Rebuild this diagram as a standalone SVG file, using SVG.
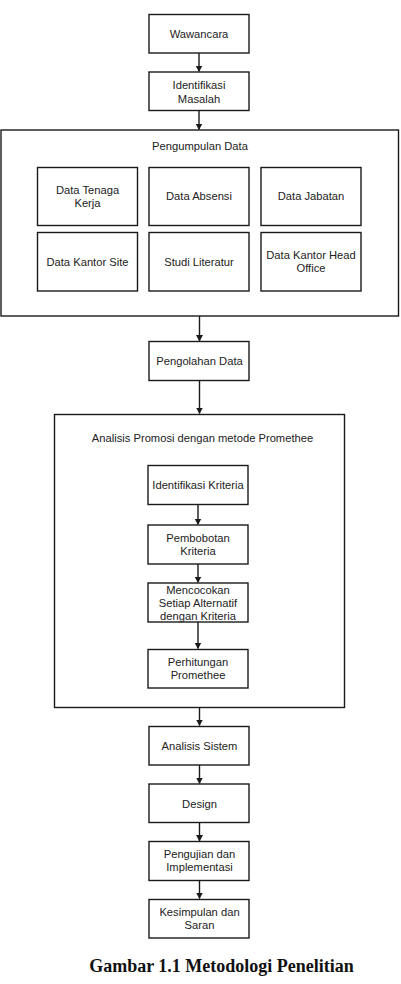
<svg xmlns="http://www.w3.org/2000/svg" width="401" height="984" viewBox="0 0 401 984">
<style>
.box{fill:#fff;stroke:#1a1a1a;stroke-width:1.4}
.grp{fill:none;stroke:#1a1a1a;stroke-width:1.4}
.t{font-family:"Liberation Sans",Arial,sans-serif;font-size:11.2px;fill:#222;text-anchor:middle}
.cap{font-family:"Liberation Serif","Times New Roman",serif;font-size:18px;font-weight:bold;fill:#111;text-anchor:middle}
.c{stroke:#1a1a1a;stroke-width:1.4;fill:none;marker-end:url(#ah)}
</style>
<defs>
<marker id="ah" markerWidth="7" markerHeight="8" refX="6" refY="4" orient="auto" markerUnits="userSpaceOnUse">
<path d="M0,0.5 L6.5,4 L0,7.5 Z" fill="#1a1a1a"/>
</marker>
</defs>
<rect width="401" height="984" fill="#fff"/>
<g id="wawancara"><rect class="box" x="149" y="14.5" width="100" height="38.5"/><text class="t" x="199" y="37.5">Wawancara</text></g>
<g id="identifikasi-masalah"><rect class="box" x="149" y="72" width="100" height="38.5"/><text class="t" x="199" y="88.5">Identifikasi</text><text class="t" x="199" y="102.5">Masalah</text></g>
<g id="pengumpulan-data"><rect class="grp" x="1" y="130" width="397.5" height="186"/><text class="t" x="200" y="150">Pengumpulan Data</text></g>
<g id="data-tenaga-kerja"><rect class="box" x="37.5" y="167.5" width="100" height="58"/><text class="t" x="87.5" y="193.5">Data Tenaga</text><text class="t" x="87.5" y="206.5">Kerja</text></g>
<g id="data-absensi"><rect class="box" x="149" y="167.5" width="100" height="58"/><text class="t" x="199" y="200">Data Absensi</text></g>
<g id="data-jabatan"><rect class="box" x="261" y="167.5" width="100" height="58"/><text class="t" x="311" y="200">Data Jabatan</text></g>
<g id="data-kantor-site"><rect class="box" x="37.5" y="232.5" width="100" height="58.5"/><text class="t" x="87.5" y="265.5">Data Kantor Site</text></g>
<g id="studi-literatur"><rect class="box" x="149" y="232.5" width="100" height="58.5"/><text class="t" x="199" y="265.5">Studi Literatur</text></g>
<g id="data-kantor-head-office"><rect class="box" x="261" y="232.5" width="100" height="58.5"/><text class="t" x="311" y="259">Data Kantor Head</text><text class="t" x="311" y="272">Office</text></g>
<g id="pengolahan-data"><rect class="box" x="149" y="341.5" width="100" height="39"/><text class="t" x="199.5" y="365">Pengolahan Data</text></g>
<g id="analisis-promosi"><rect class="grp" x="54.5" y="414.5" width="290" height="293"/><text class="t" x="202.5" y="441.5">Analisis Promosi dengan metode Promethee</text></g>
<g id="identifikasi-kriteria"><rect class="box" x="148" y="465.5" width="100" height="39"/><text class="t" x="198" y="489">Identifikasi Kriteria</text></g>
<g id="pembobotan-kriteria"><rect class="box" x="148" y="525" width="100" height="39"/><text class="t" x="198" y="542">Pembobotan</text><text class="t" x="198" y="555">Kriteria</text></g>
<g id="mencocokan"><rect class="box" x="148" y="583" width="100" height="39"/><text class="t" x="198" y="593.5">Mencocokan</text><text class="t" x="198" y="606.5">Setiap Alternatif</text><text class="t" x="198" y="619.5">dengan Kriteria</text></g>
<g id="perhitungan-promethee"><rect class="box" x="148" y="649.5" width="100" height="38.5"/><text class="t" x="198" y="666">Perhitungan</text><text class="t" x="198" y="679">Promethee</text></g>
<g id="analisis-sistem"><rect class="box" x="149" y="726.5" width="100" height="38.5"/><text class="t" x="199.5" y="750">Analisis Sistem</text></g>
<g id="design"><rect class="box" x="149" y="784" width="100" height="38.5"/><text class="t" x="199.5" y="807.5">Design</text></g>
<g id="pengujian"><rect class="box" x="149" y="841.5" width="100" height="39"/><text class="t" x="199.5" y="858">Pengujian dan</text><text class="t" x="199.5" y="871">Implementasi</text></g>
<g id="kesimpulan"><rect class="box" x="149" y="899.5" width="100" height="38.5"/><text class="t" x="199.5" y="916">Kesimpulan dan</text><text class="t" x="199.5" y="929">Saran</text></g>
<g id="connectors">
<line class="c" x1="199" y1="53" x2="199" y2="71.5"/>
<line class="c" x1="199" y1="110.5" x2="199" y2="129.5"/>
<line class="c" x1="199.5" y1="316" x2="199.5" y2="341"/>
<line class="c" x1="199.5" y1="380.5" x2="199.5" y2="413.5"/>
<line class="c" x1="198" y1="504.5" x2="198" y2="524.5"/>
<line class="c" x1="198" y1="564" x2="198" y2="582.5"/>
<line class="c" x1="198" y1="622" x2="198" y2="648.5"/>
<line class="c" x1="199.5" y1="707.5" x2="199.5" y2="725.5"/>
<line class="c" x1="199.5" y1="765" x2="199.5" y2="783.5"/>
<line class="c" x1="199.5" y1="822.5" x2="199.5" y2="841"/>
<line class="c" x1="199.5" y1="880.5" x2="199.5" y2="898.5"/>
</g>
<text class="cap" x="221.5" y="971.5">Gambar 1.1 Metodologi Penelitian</text>
</svg>
